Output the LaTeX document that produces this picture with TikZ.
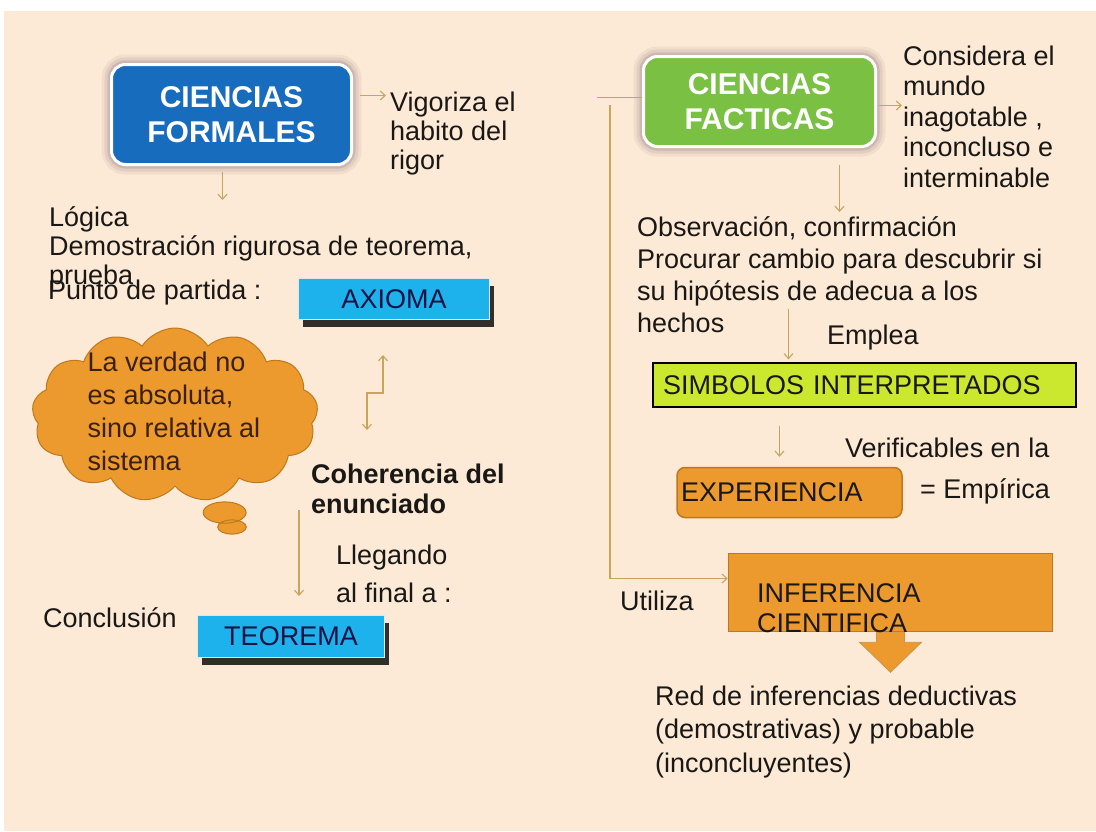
\documentclass[tikz,border=0pt]{standalone}
\usepackage{fontspec}
\setmainfont{Liberation Sans}
\usetikzlibrary{arrows.meta,shadows,shapes.symbols,shapes.callouts}
\definecolor{fondo}{RGB}{252,234,214}
\definecolor{azulf}{RGB}{24,108,190}
\definecolor{verdef}{RGB}{122,192,66}
\definecolor{celeste}{RGB}{30,178,236}
\definecolor{limon}{RGB}{204,232,46}
\definecolor{naranja}{RGB}{236,154,46}
\definecolor{naranjab}{RGB}{190,120,30}
\definecolor{dorado}{RGB}{200,164,92}
\definecolor{tinta}{RGB}{26,24,22}
\definecolor{cafe}{RGB}{60,32,14}
\definecolor{sombra}{RGB}{90,50,80}
\begin{document}
\begin{tikzpicture}[
        x=1pt,
        y=-1pt,
        texto/.style={anchor=base west, inner sep=0pt, align=left, text=tinta, font=\fontsize{27}{30}\selectfont},
        ciencia/.style={rounded corners=14pt, draw=white, line width=3pt, text=white, align=center,
            font=\fontsize{30}{35}\selectfont\bfseries,
            preaction={draw=sombra, line width=20pt, opacity=.07},
            preaction={draw=sombra, line width=14pt, opacity=.09},
            preaction={draw=sombra, line width=8pt, opacity=.14}},
        concepto/.style={draw=white!80!gray, line width=1pt, fill=celeste, text=tinta!80!blue,
            font=\fontsize{27}{30}\selectfont, inner sep=0pt,
            drop shadow={shadow xshift=4pt, shadow yshift=-7pt, fill=black, opacity=.8}},
        caja/.style={draw=naranjab, line width=1.5pt, fill=naranja, text=tinta, align=left,
            font=\fontsize{27}{30}\selectfont},
        nube/.style={cloud callout, cloud puffs=13, cloud puff arc=115, cloud ignores aspect,
            draw=naranjab, line width=1pt, fill=naranja, inner sep=0pt, callout pointer segments=2,
            callout pointer start size=.2 of callout, callout pointer end size=.1 of callout},
        flecha/.style={draw=dorado, line width=1.1pt, -{Straight Barb[length=5pt,width=9pt]}},
        flechados/.style={flecha, {Straight Barb[length=5pt,width=9pt]}-{Straight Barb[length=5pt,width=9pt]}},
        linea/.style={draw=dorado, line width=1.1pt}
    ]
    \useasboundingbox (0,0) rectangle (1096,831);
    \fill[white] (0,0) rectangle (1096,831);
    \fill[fondo] (4,11) rectangle (1096,831);

    \node[ciencia, fill=azulf, minimum width=240pt, minimum height=100pt] (formales) at (231.5,114.5) {CIENCIAS\\FORMALES};
    \node[texto, font=\fontsize{27}{29}\selectfont] (vigoriza) at (390,169) {Vigoriza el\\habito del\\rigor};
    \node[texto, font=\fontsize{27}{29}\selectfont] (logica) at (49,284) {Lógica\\Demostración rigurosa de teorema,\\prueba};
    \node[texto] (partida) at (48,299) {Punto de partida :};
    \node[concepto, minimum width=191pt, minimum height=41pt] (axioma) at (394,299) {AXIOMA};
    \node[nube, minimum width=286pt, minimum height=174pt, callout absolute pointer={(232,527)}] (verdad) at (175,415) {};
    \node[align=left, inner sep=0pt, text=cafe, font=\fontsize{27}{33}\selectfont] (verdadtexto) at (174,411) {La verdad no\\es absoluta,\\sino relativa al\\sistema};
    \node[texto, font=\fontsize{27}{30}\selectfont\bfseries] (coherencia) at (311,513) {Coherencia del\\enunciado};
    \node[texto, font=\fontsize{27}{38}\selectfont] (llegando) at (336,602) {Llegando\\al final a :};
    \node[texto] (conclusion) at (43,627) {Conclusión};
    \node[concepto, minimum width=187pt, minimum height=42pt] (teorema) at (291,636.5) {TEOREMA};

    \draw[flecha] ([xshift=7pt,yshift=19pt]formales.east) -- ++(26,0);
    \draw[flecha] ([xshift=-9pt,yshift=-6pt]formales.south) -- ++(0,28);
    \draw[flechados] ([xshift=-11pt,yshift=-35pt]axioma.south) -- ++(0,38) -- ++(-16,0) -- ++(0,37);
    \draw[flecha] ([xshift=-12pt,yshift=3pt]coherencia.south west) -- ([xshift=8pt,yshift=19pt]teorema.north);

    \node[ciencia, fill=verdef, minimum width=232pt, minimum height=90pt] (facticas) at (759.5,101.5) {CIENCIAS\\FACTICAS};
    \node[texto, font=\fontsize{27}{30.5}\selectfont] (considera) at (903,187) {Considera el\\mundo\\inagotable ,\\inconcluso e\\interminable};
    \node[texto, font=\fontsize{27}{32}\selectfont] (observacion) at (637,332) {Observación, confirmación\\Procurar cambio para descubrir si\\su hipótesis de adecua a los\\hechos};
    \node[texto] (emplea) at (827,344) {Emplea};
    \node[draw=black, line width=1.2pt, fill=limon, text width=403pt, inner sep=10pt, minimum height=44pt,
        align=left, text=tinta, font=\fontsize{27}{30}\selectfont] (simbolos) at (864.5,385) {SIMBOLOS INTERPRETADOS};
    \node[texto] (verificables) at (845,457) {Verificables en la};
    \node[caja, rounded corners=8pt, text width=217pt, inner sep=4pt, minimum height=50pt] (experiencia) at (789.5,492.5) {EXPERIENCIA};
    \node[texto] (empirica) at (920,498) {= Empírica};
    \node[caja, minimum width=324pt, minimum height=78pt, inner sep=0pt] (inferencia) at (890.5,592.5) {};
    \filldraw[draw=naranjab!80, fill=naranja, line width=.8pt] ([xshift=-14pt]inferencia.south) -- ++(0,10) -- ++(-17,0)
        -- ++(31,30) -- ++(31,-30) -- ++(-17,0) -- ++(0,-10) -- cycle;
    \node[texto] (inftexto) at (757,632) {INFERENCIA\\CIENTIFICA};
    \node[texto] (utiliza) at (620,610) {Utiliza};
    \node[texto, font=\fontsize{27}{33.5}\selectfont] (red) at (655,772) {Red de inferencias deductivas\\(demostrativas) y probable\\(inconcluyentes)};

    \coordinate (tronco) at (610,105);
    \draw[linea] ([yshift=4pt]facticas.west) -- ++(-45,0);
    \draw[flecha] (tronco) |- ([yshift=14pt]inferencia.west);
    \draw[flecha] ([xshift=2pt,yshift=-4pt]facticas.east) -- ++(23,0);
    \draw[flecha] ([xshift=80pt,yshift=-17pt]facticas.south) -- ++(0,47);
    \draw[flecha] ([xshift=-76pt,yshift=53pt]simbolos.north) -- ([xshift=-76pt,yshift=3pt]simbolos.north);
    \draw[flecha] ([xshift=-85pt,yshift=-18pt]simbolos.south) -- ([xshift=-10pt,yshift=10pt]experiencia.north);
\end{tikzpicture}
\end{document}
